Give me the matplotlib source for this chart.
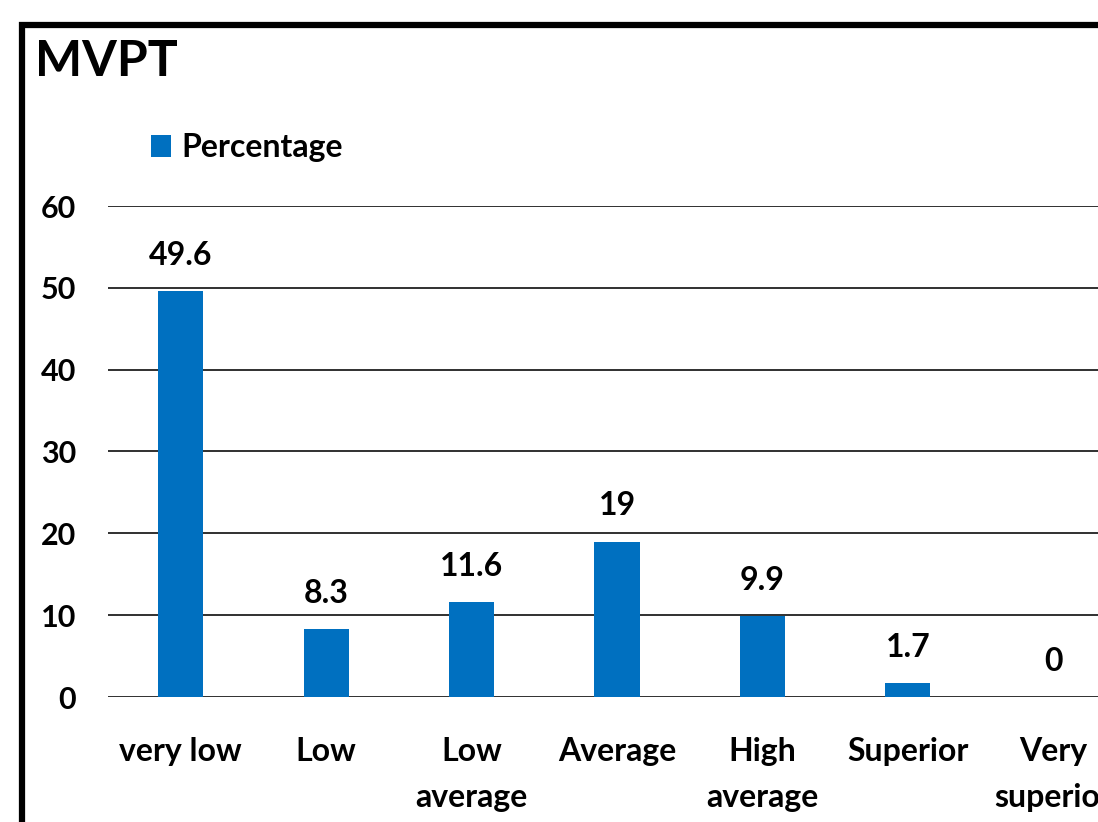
import matplotlib
matplotlib.use("Agg")
import matplotlib.pyplot as plt
from matplotlib.patches import Rectangle

categories = ["very low", "Low", "Low\naverage", "Average", "High\naverage", "Superior", "Very\nsuperior"]
percentage = [49.6, 8.3, 11.6, 19, 9.9, 1.7, 0]
value_labels = ["49.6", "8.3", "11.6", "19", "9.9", "1.7", "0"]
yticks = [0, 10, 20, 30, 40, 50, 60]

plt.rcParams['font.family'] = ['Lato', 'DejaVu Sans']
plt.rcParams['font.weight'] = 'bold'

fig = plt.figure(figsize=(10.98, 8.22), dpi=100)
fig.patch.set_facecolor('white')

# plot area runs past the right edge of the figure
ax = fig.add_axes([108 / 1098, 125 / 822, 1018 / 1098, 491 / 822])
x = list(range(len(categories)))
bars = ax.bar(x, percentage, width=0.31, color='#0070C0', zorder=3)

for xi, v, lab in zip(x, percentage, value_labels):
    ax.annotate(lab, (xi, v), xytext=(0, 19), textcoords='offset points',
                ha='center', va='baseline', fontsize=23, fontweight='bold', color='black')

ax.set_xlim(-0.5, 6.5)
ax.set_ylim(0, 60)
ax.set_yticks(yticks)
ax.set_yticklabels([str(t) for t in yticks], fontsize=22, fontweight='bold')
ax.set_xticks(x)
ax.set_xticklabels(categories, fontsize=23, fontweight='bold', linespacing=1.74)
ax.tick_params(axis='y', length=0, pad=23)
ax.tick_params(axis='x', length=0, pad=28.5)
ax.yaxis.grid(True, color='#303030', linewidth=1.4, zorder=0)
for s in ax.spines.values():
    s.set_visible(False)
ax.set_facecolor('none')

fig.text(35 / 1098, 1 - 76 / 822, "MVPT", fontsize=36, fontweight='bold', ha='left', va='baseline')

ax.legend(bars[:1], ["Percentage"], loc='upper left', bbox_to_anchor=(151 / 1098, 1 - 133 / 822),
          bbox_transform=fig.transFigure, frameon=False, fontsize=23, handlelength=0.63,
          handleheight=0.66, handletextpad=0.31, borderaxespad=0, borderpad=0)

# thick outer frame of the chart area
frame = Rectangle((22 / 1098, -0.2), 1.2, 1.2 - 25 / 822,
                  transform=fig.transFigure, fill=False, edgecolor='black', linewidth=4.5)
fig.add_artist(frame)

fig.savefig("out.png", dpi=100)
